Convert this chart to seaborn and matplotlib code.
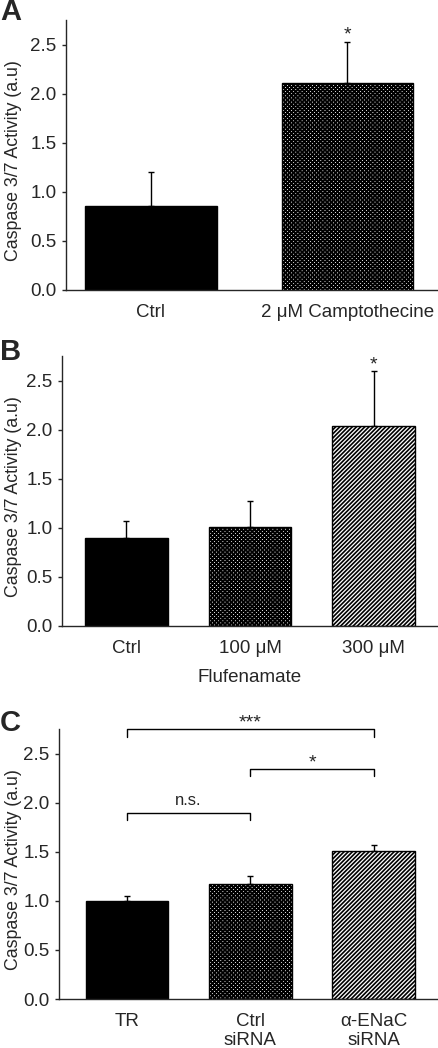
import numpy as np
import pandas as pd
import matplotlib
matplotlib.use("Agg")
import matplotlib.pyplot as plt
import seaborn as sns

sns.set_style("ticks")
plt.rcParams['font.family'] = ['Liberation Sans', 'DejaVu Sans']
plt.rcParams['hatch.linewidth'] = 1.2

# ---------------------------
# data
# ---------------------------
a_labels = ["Ctrl", "2 \u03bcM Camptothecine"]
a_means = [0.86, 2.11]
a_err = [0.34, 0.42]

b_labels = ["Ctrl", "100 \u03bcM", "300 \u03bcM"]
b_means = [0.90, 1.01, 2.04]
b_err = [0.17, 0.27, 0.56]

c_labels = ["TR", "Ctrl\nsiRNA", "\u03b1-ENaC\nsiRNA"]
c_means = [1.00, 1.17, 1.51]
c_err = [0.05, 0.08, 0.06]

yticks = [0.0, 0.5, 1.0, 1.5, 2.0, 2.5]
ylabel = "Caspase 3/7 Activity (a.u)"

FS = 13.5
W, H = 438, 1048
fig = plt.figure(figsize=(W / 100, H / 100), dpi=100)

CHECK = "xxxxxxxx"
DIAG = "////////"


def panel(left_px, bottom_px, labels, means, errs, hatches, xlim):
    rect = [left_px / W, 1 - bottom_px / H, 1 - left_px / W, 270 / H]
    ax = fig.add_axes(rect)
    df = pd.DataFrame({"group": labels, "value": means})
    sns.barplot(data=df, x="group", y="value", color="white", width=0.67,
                edgecolor="black", linewidth=1.0, errorbar=None, ax=ax)
    for p, h in zip(ax.patches, hatches):
        if h == "solid":
            p.set_facecolor("black")
        else:
            p.set_facecolor("white")
            p.set_hatch(h)
            if hasattr(p, "set_hatch_linewidth"):
                p.set_hatch_linewidth(1.35 if h == CHECK else 1.2)
        p.set_zorder(2)
    x = np.arange(len(means))
    ax.errorbar(x, means, yerr=[np.zeros(len(errs)), errs], fmt="none",
                ecolor="black", elinewidth=1.0, capsize=2.5, capthick=1.0,
                zorder=1)
    ax.set_ylim(0, 2.755)
    ax.set_xlim(*xlim)
    ax.set_yticks(yticks)
    ax.set_yticklabels([f"{t:.1f}" for t in yticks])
    ax.tick_params(axis="y", length=3, width=1, labelsize=FS, pad=4)
    ax.tick_params(axis="x", length=0, labelsize=FS, pad=10)
    ax.set_xlabel("")
    ax.set_ylabel(ylabel, fontsize=12.8)
    ax.yaxis.set_label_coords((22 - left_px) / (W - left_px), 0.48)
    sns.despine(ax=ax)
    for s in ["left", "bottom"]:
        ax.spines[s].set_linewidth(1.0)
    return ax


# ---------------------------
# A
# ---------------------------
axA = panel(66, 290, a_labels, a_means, a_err, ["solid", CHECK], (-0.43, 1.46))
axA.text(1, 2.60, "*", ha="center", va="center", fontsize=14)
fig.text(0 / W, 1 - 12 / H, "A", fontsize=21, fontweight="bold", va="center")

# ---------------------------
# B
# ---------------------------
axB = panel(62, 626, b_labels, b_means, b_err, ["solid", CHECK, DIAG], (-0.52, 2.52))
axB.set_xlabel("Flufenamate", fontsize=FS, labelpad=9)
axB.text(2, 2.66, "*", ha="center", va="center", fontsize=14)
fig.text(0 / W, 1 - 352 / H, "B", fontsize=21, fontweight="bold", va="center")

# ---------------------------
# C
# ---------------------------
axC = panel(59, 999, c_labels, c_means, c_err, ["solid", CHECK, DIAG], (-0.55, 2.52))
fig.text(0 / W, 1 - 723 / H, "C", fontsize=21, fontweight="bold", va="center")


def bracket(ax, x0, x1, y, drop, txt, ty, fs):
    ax.plot([x0, x0, x1, x1], [y - drop, y, y, y - drop], color="black",
            lw=1.0, clip_on=False)
    ax.text((x0 + x1) / 2, ty, txt, ha="center", va="center", fontsize=fs)


bracket(axC, 0, 2, 2.755, 0.08, "***", 2.82, 14)
bracket(axC, 1, 2, 2.35, 0.07, "*", 2.41, 14)
bracket(axC, 0, 1, 1.90, 0.07, "n.s.", 2.03, 12)

plt.savefig("out.png", dpi=100)
